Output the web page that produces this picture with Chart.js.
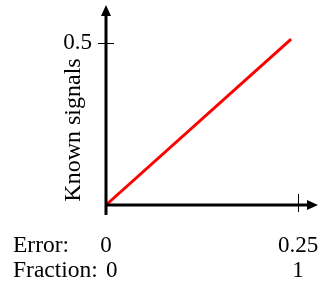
<!DOCTYPE html>
<html>
<head>
<meta charset="utf-8">
<script src="https://cdn.jsdelivr.net/npm/chart.js@4"></script>
<style>
  html, body { margin: 0; padding: 0; background: #fff; }
  #wrap { width: 322px; height: 289px; }
</style>
</head>
<body>
<div id="wrap"><canvas id="signalsChart"></canvas></div>
<script>
const errorValues = [0, 0.241];
const signalValues = [0, 0.512];
const xTickValues = [0, 0.25];
const errorTickLabels = ["0", "0.25"];
const fractionTickLabels = ["\u20020", "1"];
const yTickValues = [0.5];
const yTickLabels = ["0.5"];
const rowNames = ["Error:", "Fraction:"];
const yTitle = "Known signals";

const FONT = "Liberation Serif, Times New Roman, serif";
const LINE_H = 25;
const LABEL_PAD = 28;

function noScalePadding(scale) {
  scale.paddingLeft = 0;
  scale.paddingRight = 0;
  scale.paddingTop = 0;
  scale.paddingBottom = 0;
}

// axes with arrows, crossing tick marks, row names and rotated title
const axesPlugin = {
  id: "axesPlugin",
  afterDatasetsDraw(chart) {
    const ctx = chart.ctx;
    const xs = chart.scales.x;
    const ys = chart.scales.y;
    const x0 = xs.getPixelForValue(0);
    const y0 = ys.getPixelForValue(0);
    const right = chart.chartArea.right;
    const top = chart.chartArea.top;

    ctx.save();
    ctx.strokeStyle = "#000";
    ctx.fillStyle = "#000";
    ctx.lineWidth = 3;
    ctx.beginPath();
    ctx.moveTo(x0, y0 + 10);
    ctx.lineTo(x0, top + 8);
    ctx.moveTo(x0 - 1, y0);
    ctx.lineTo(right - 8, y0);
    ctx.stroke();

    // arrow heads
    ctx.beginPath();
    ctx.moveTo(x0, top);
    ctx.lineTo(x0 - 5, top + 11);
    ctx.lineTo(x0 + 5, top + 11);
    ctx.closePath();
    ctx.fill();
    ctx.beginPath();
    ctx.moveTo(right, y0);
    ctx.lineTo(right - 11, y0 - 5);
    ctx.lineTo(right - 11, y0 + 5);
    ctx.closePath();
    ctx.fill();

    // tick marks
    ctx.lineWidth = 1;
    ctx.beginPath();
    yTickValues.forEach((v) => {
      const py = Math.round(ys.getPixelForValue(v)) + 0.5;
      ctx.moveTo(x0 - 8, py);
      ctx.lineTo(x0 + 8, py);
    });
    xTickValues.forEach((v) => {
      if (v === 0) return;
      const px = Math.round(xs.getPixelForValue(v)) + 0.5;
      ctx.moveTo(px, y0 - 11);
      ctx.lineTo(px, y0 + 7);
    });
    ctx.stroke();

    // row names in front of the tick label rows
    ctx.font = "23.5px " + FONT;
    ctx.textAlign = "left";
    ctx.textBaseline = "middle";
    rowNames.forEach((name, i) => {
      ctx.fillText(name, 13, xs.top + LABEL_PAD + LINE_H / 2 + i * LINE_H);
    });

    // y title
    ctx.font = "24px " + FONT;
    ctx.translate(80, 130);
    ctx.rotate(-Math.PI / 2);
    ctx.textAlign = "center";
    ctx.textBaseline = "alphabetic";
    ctx.fillText(yTitle, 0, 0);
    ctx.restore();
  },
};

const ctx = document.getElementById("signalsChart").getContext("2d");
const chart = new Chart(ctx, {
  type: "scatter",
  data: {
    datasets: [
      {
        data: errorValues.map((x, i) => ({ x: x, y: signalValues[i] })),
        showLine: true,
        borderColor: "#ff0000",
        borderWidth: 3,
        pointRadius: 0,
        clip: false,
      },
    ],
  },
  options: {
    responsive: true,
    maintainAspectRatio: false,
    animation: false,
    layout: { padding: { left: 0, right: 4, top: 5, bottom: 0 } },
    scales: {
      x: {
        type: "linear",
        min: 0,
        max: 0.276,
        afterFit: (scale) => { scale.height = 84; noScalePadding(scale); },
        afterBuildTicks: (scale) => {
          scale.ticks = xTickValues.map((v) => ({ value: v }));
        },
        grid: { display: false, drawTicks: false },
        border: { display: false },
        ticks: {
          padding: LABEL_PAD,
          maxRotation: 0,
          autoSkip: false,
          color: "#000",
          font: { family: FONT, size: 23, lineHeight: LINE_H / 23 },
          callback: (value, index) => [errorTickLabels[index], fractionTickLabels[index]],
        },
      },
      y: {
        type: "linear",
        min: 0,
        max: 0.617,
        afterFit: (scale) => { scale.width = 106; noScalePadding(scale); },
        afterBuildTicks: (scale) => {
          scale.ticks = yTickValues.map((v) => ({ value: v }));
        },
        grid: { display: false, drawTicks: false },
        border: { display: false },
        ticks: {
          padding: 14,
          autoSkip: false,
          color: "#000",
          font: { family: FONT, size: 23 },
          callback: (value, index) => yTickLabels[index],
        },
      },
    },
    plugins: {
      legend: { display: false },
      tooltip: { enabled: false },
    },
  },
  plugins: [axesPlugin],
});
</script>
</body>
</html>
